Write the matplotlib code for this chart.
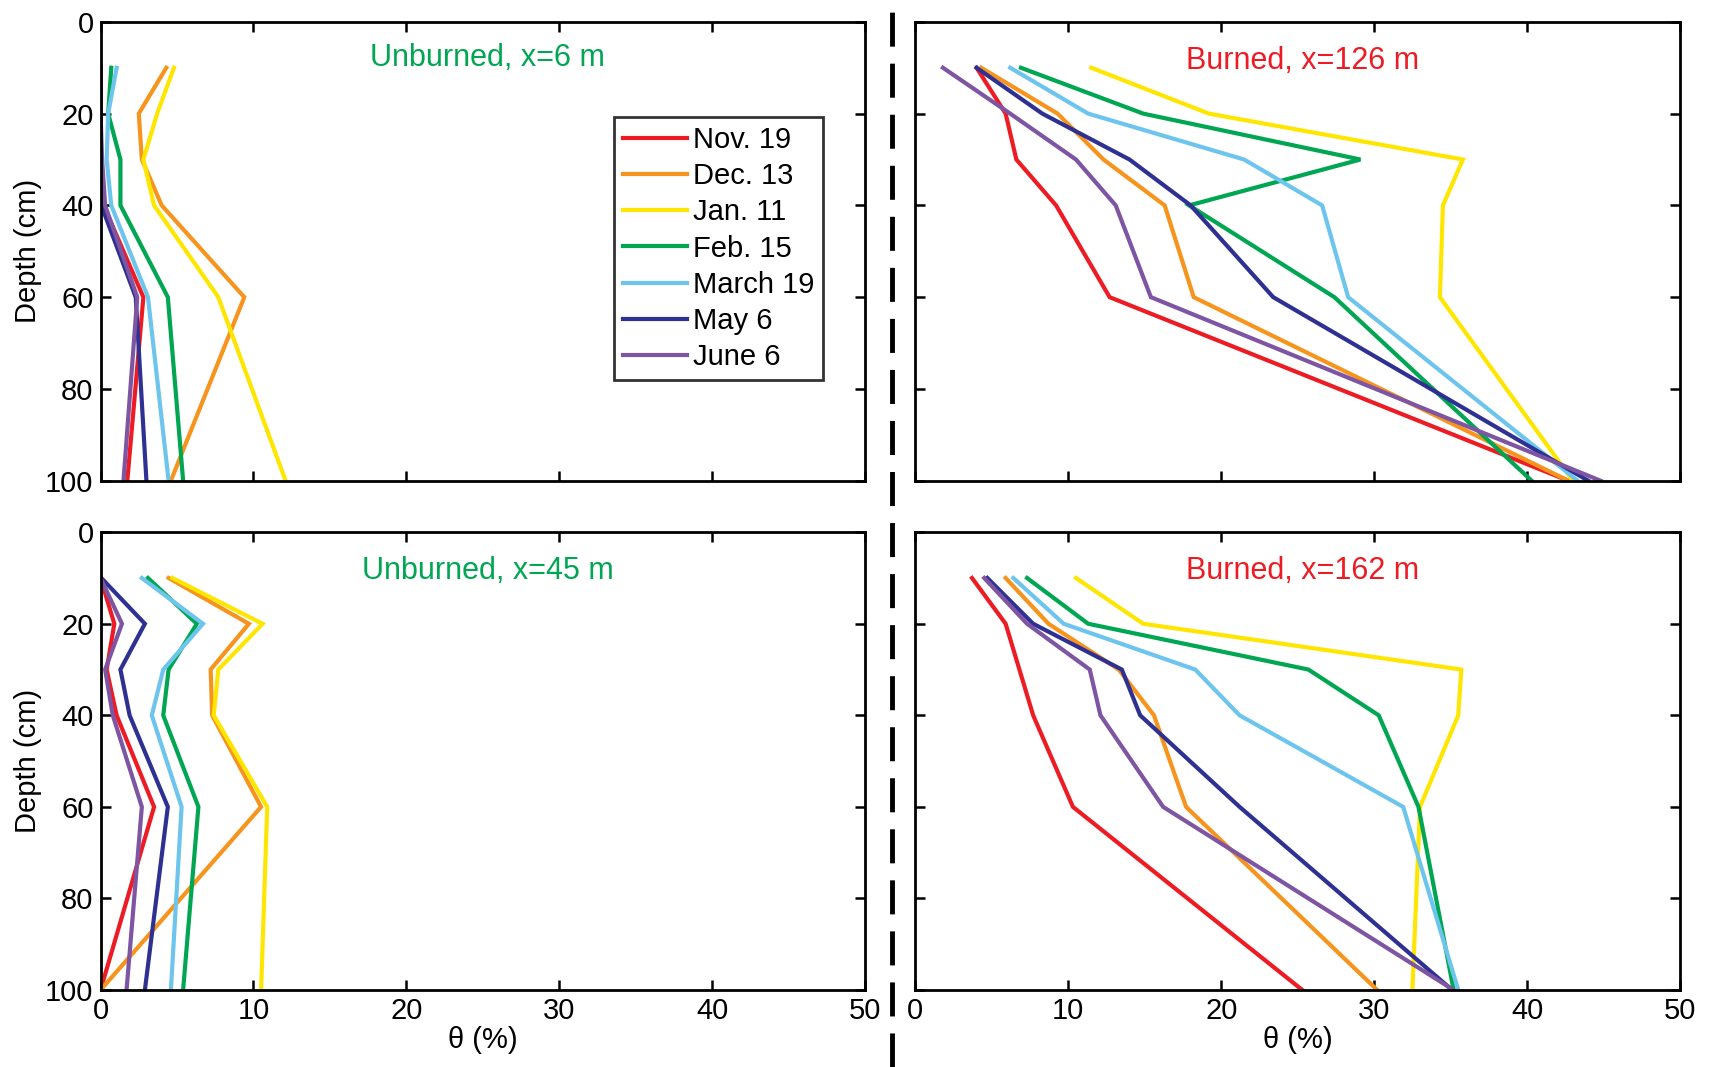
import matplotlib
matplotlib.use("Agg")
import matplotlib.pyplot as plt
from matplotlib.lines import Line2D

plt.rcParams['font.family'] = ['Liberation Sans', 'DejaVu Sans']

# depths of the probes (cm)
depth = [10, 20, 30, 40, 60, 100]

dates = ['Nov. 19', 'Dec. 13', 'Jan. 11', 'Feb. 15', 'March 19', 'May 6', 'June 6']
colors = ['#ed1c24', '#f7941d', '#ffe600', '#00a651', '#6dc5ee', '#2e3192', '#7d55a3']

# theta (%) per date, one list per panel
unburned_6 = [
    [0.0, 0.0, 0.0, 0.2, 2.8, 1.75],    # Nov. 19
    [4.3, 2.5, 2.7, 4.0, 9.4, 4.6],     # Dec. 13
    [4.8, 3.7, 2.8, 3.5, 7.7, 12.1],    # Jan. 11
    [0.7, 0.5, 1.3, 1.3, 4.4, 5.4],     # Feb. 15
    [1.05, 0.5, 0.4, 0.7, 3.1, 4.45],   # March 19
    [0.0, 0.0, 0.0, 0.05, 2.3, 3.0],    # May 6
    [0.0, 0.0, 0.1, 0.3, 2.4, 1.5],     # June 6
]
burned_126 = [
    [4.0, 5.9, 6.6, 9.2, 12.7, 42.7],
    [4.3, 9.3, 12.3, 16.3, 18.2, 42.7],
    [11.5, 19.2, 35.8, 34.5, 34.3, 43.0],
    [6.9, 14.9, 29.1, 17.9, 27.4, 40.3],
    [6.2, 11.3, 21.5, 26.6, 28.3, 43.3],
    [4.0, 8.3, 14.0, 18.0, 23.4, 44.0],
    [1.8, 6.2, 10.5, 13.1, 15.4, 44.8],
]
unburned_45 = [
    [0.0, 0.9, 0.4, 1.05, 3.5, 0.0],
    [4.45, 9.7, 7.2, 7.3, 10.5, 0.0],
    [4.7, 10.6, 7.7, 7.4, 10.9, 10.5],
    [3.1, 6.3, 4.45, 4.1, 6.4, 5.4],
    [2.7, 6.7, 4.1, 3.35, 5.3, 4.6],
    [0.05, 2.9, 1.3, 1.9, 4.4, 2.9],
    [0.0, 1.4, 0.3, 0.8, 2.7, 1.7],
]
burned_162 = [
    [3.7, 5.9, 6.8, 7.7, 10.3, 25.3],
    [5.9, 8.7, 13.3, 15.6, 17.7, 30.2],
    [10.5, 14.9, 35.7, 35.5, 33.0, 32.5],
    [7.3, 11.3, 25.7, 30.3, 32.9, 35.2],
    [6.4, 9.7, 18.3, 21.2, 31.9, 35.5],
    [4.7, 7.7, 13.5, 14.7, 21.2, 35.1],
    [4.5, 7.3, 11.4, 12.1, 16.2, 35.2],
]

panels = [
    (unburned_6, 'Unburned, x=6 m', '#00a651', [0.0587, 0.5495, 0.4463, 0.430], 7.8),
    (burned_126, 'Burned, x=126 m', '#ed1c24', [0.5344, 0.5495, 0.4463, 0.430], 8.6),
    (unburned_45, 'Unburned, x=45 m', '#00a651', [0.0587, 0.0722, 0.4463, 0.429], 8.5),
    (burned_162, 'Burned, x=162 m', '#ed1c24', [0.5344, 0.0722, 0.4463, 0.429], 8.5),
]

fig = plt.figure(figsize=(17.13, 10.67), dpi=100)

axes = []
for i, (data, title, tcol, rect, ty) in enumerate(panels):
    ax = fig.add_axes(rect)
    for vals, c, lab in zip(data, colors, dates):
        ax.plot(vals, depth, color=c, lw=3.0, label=lab, solid_joinstyle='miter')
    ax.set_xlim(0, 50)
    ax.set_ylim(100, 0)
    ax.set_xticks([0, 10, 20, 30, 40, 50])
    ax.set_yticks([0, 20, 40, 60, 80, 100])
    ax.tick_params(direction='in', length=7, width=1.8, top=True, right=True,
                   labelsize=21, pad=5)
    for s in ax.spines.values():
        s.set_linewidth(2)
    ax.text(25.3, ty, title, color=tcol, fontsize=22, ha='center', va='center')
    if i % 2 == 1:
        ax.set_yticklabels([])
    else:
        ax.set_ylabel('Depth (cm)', fontsize=21, labelpad=2)
    if i < 2:
        ax.set_xticklabels([])
    else:
        ax.set_xlabel('\u03b8 (%)', fontsize=21, labelpad=1)
    axes.append(ax)

leg = axes[0].legend(loc='upper left', bbox_to_anchor=(0.672, 0.792), fontsize=21,
                     frameon=True, fancybox=False, edgecolor='black',
                     handlelength=2.2, handletextpad=0.2, labelspacing=0.28,
                     borderpad=0.3, borderaxespad=0)
leg.get_frame().set_linewidth(2)

# dashed separator between unburned and burned columns
fig.add_artist(Line2D([0.5205, 0.5205], [0.0, 1.0], transform=fig.transFigure,
                      color='black', lw=3.5, linestyle=(0, (7, 3.5))))

fig.savefig('out.png', dpi=100)
